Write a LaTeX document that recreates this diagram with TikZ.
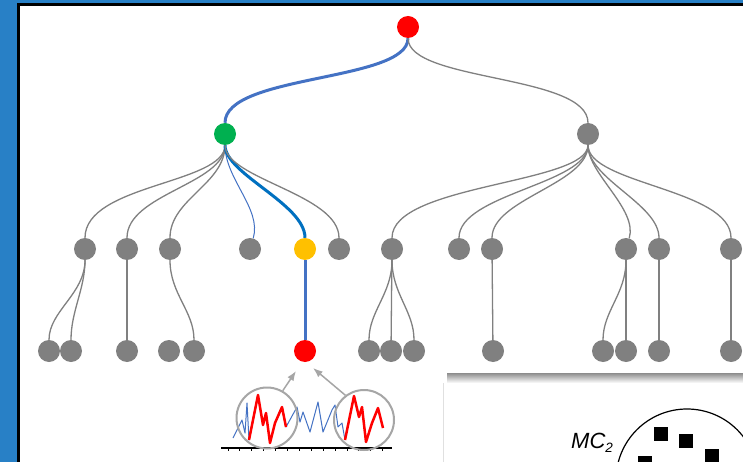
\documentclass[tikz,border=0pt]{standalone}
\usepackage{fontspec}
\newfontfamily\arialfont{Liberation Sans}
\usetikzlibrary{arrows.meta}
\definecolor{framebl}{RGB}{40,128,198}
\definecolor{treegray}{RGB}{128,128,128}
\definecolor{pathbl}{RGB}{68,114,196}
\definecolor{deepbl}{RGB}{0,112,192}
\definecolor{leafred}{RGB}{255,0,0}
\definecolor{hubgreen}{RGB}{0,176,80}
\definecolor{amber}{RGB}{255,192,0}
\definecolor{lensgray}{RGB}{166,166,166}

\begin{document}
\begin{tikzpicture}[x=1pt,y=-1pt,>=Latex,
  dot/.style={circle,minimum size=22pt,inner sep=0pt,fill=treegray},
  gedge/.style={draw=treegray,line width=1.3pt},
  bedge/.style={draw=pathbl,line width=3pt},
  lens/.style={circle,draw=lensgray,line width=2pt,minimum size=61pt,inner sep=0pt},
  arrowg/.style={draw=lensgray,line width=1.5pt,->},
  sq/.style={fill=black,minimum size=14pt,inner sep=0pt}]
\useasboundingbox (0,0) rectangle (743,462);
\clip (0,0) rectangle (743,462);
\fill[framebl] (0,0) rectangle (743,462);
\fill[black] (17,3) rectangle (743,462);
\fill[white] (19.5,6) rectangle (743,462);

\node[dot,fill=leafred] (root) at (408,27) {};
\node[dot,fill=hubgreen] (hub) at (225,134) {};
\node[dot] (r1) at (588,134) {};

\node[dot] (l2a) at (85,249) {};
\node[dot] (l2b) at (127,249) {};
\node[dot] (l2c) at (170,249) {};
\node[dot] (l2d) at (250,249) {};
\node[dot,fill=amber] (yel) at (305,249) {};
\node[dot] (l2f) at (339,249) {};
\node[dot] (l2g) at (392,249) {};
\node[dot] (l2h) at (459,249) {};
\node[dot] (l2i) at (492,249) {};
\node[dot] (l2j) at (626,249) {};
\node[dot] (l2k) at (659,249) {};
\node[dot] (l2l) at (731,249) {};

\node[dot] (l3a) at (49,351) {};
\node[dot] (l3b) at (71,351) {};
\node[dot] (l3c) at (127,351) {};
\node[dot] (l3d) at (169,351) {};
\node[dot] (l3e) at (194,351) {};
\node[dot,fill=leafred] (leaf) at (305,351) {};
\node[dot] (l3g) at (369,351) {};
\node[dot] (l3h) at (391,351) {};
\node[dot] (l3i) at (414,351) {};
\node[dot] (l3j) at (493,351) {};
\node[dot] (l3k) at (603,351) {};
\node[dot] (l3l) at (626,351) {};
\node[dot] (l3m) at (659,351) {};
\node[dot] (l3n) at (731,351) {};

\draw[bedge] (root) .. controls +(0,55) and +(0,-60) .. (hub);
\draw[gedge] (root) .. controls +(0,55) and +(0,-60) .. (r1);

\draw[gedge] (hub) .. controls +(0,50) and +(0,-65) .. (l2a);
\draw[gedge] (hub) .. controls +(0,50) and +(0,-55) .. (l2b);
\draw[gedge] (hub) .. controls +(0,50) and +(0,-50) .. (l2c);
\draw[draw=pathbl,line width=1pt] (hub) .. controls +(0,45) and +(12,-40) .. (l2d);
\draw[bedge,draw=deepbl] (hub) .. controls +(0,40) and +(0,-45) .. (yel);
\draw[gedge] (hub) .. controls +(0,45) and +(0,-55) .. (l2f);

\draw[gedge] (r1) .. controls +(0,50) and +(0,-65) .. (l2g);
\draw[gedge] (r1) .. controls +(0,50) and +(0,-55) .. (l2h);
\draw[gedge] (r1) .. controls +(0,50) and +(0,-50) .. (l2i);
\draw[gedge] (r1) .. controls +(0,40) and +(12,-40) .. (l2j);
\draw[gedge] (r1) .. controls +(0,45) and +(0,-45) .. (l2k);
\draw[gedge] (r1) .. controls +(0,50) and +(0,-60) .. (l2l);

\draw[gedge] (l2a) .. controls +(0,45) and +(0,-40) .. (l3a);
\draw[gedge] (l2a) .. controls +(0,40) and +(0,-40) .. (l3b);
\draw[gedge] (l2b) -- (l3c);
\draw[gedge] (l2c) .. controls +(0,45) and +(0,-40) .. (l3e);
\draw[bedge] (yel) -- (leaf);
\draw[gedge] (l2g) .. controls +(0,45) and +(0,-40) .. (l3g);
\draw[gedge] (l2g) -- (l3h);
\draw[gedge] (l2g) .. controls +(0,45) and +(0,-40) .. (l3i);
\draw[gedge] (l2i) -- (l3j);
\draw[gedge] (l2j) .. controls +(0,45) and +(0,-40) .. (l3k);
\draw[gedge] (l2j) -- (l3l);
\draw[gedge] (l2k) -- (l3m);
\draw[gedge] (l2l) -- (l3n);

\draw[pathbl,line width=1pt,line join=round] (233,438) -- (242,420) -- (245,433) -- (247,403) -- (249,440)
  -- (258,395) -- (263,425) -- (266,413) -- (270,443) -- (275,423) -- (282,407) -- (286,427)
  -- (297,407) -- (300,422) -- (303,412) -- (310,432) -- (318,402) -- (323,432) -- (332,410)
  -- (335,405) -- (338,427) -- (342,423) -- (345,440);
\draw[leafred,line width=2.5pt,line join=round] (249,440) -- (258,395) -- (263,425) -- (266,413)
  -- (270,443) -- (275,423) -- (282,407) -- (286,427);
\draw[leafred,line width=2.5pt,line join=round] (345,440) -- (354,396) -- (359,417) -- (362,407)
  -- (366,442) -- (372,423) -- (378,408) -- (383,428);
\coordinate (axL) at (221,448);
\coordinate (axR) at (392,448);
\draw[line width=1.3pt] (axL) -- (axR);
\foreach \t in {0,...,13}
  \draw[line width=1pt] (228+\t*11.9,448) -- ++(0,3);

\node[lens] (lensL) at (267,418) {};
\node[lens,minimum size=60pt] (lensR) at (364,420) {};
\coordinate (tipL) at (296,371);
\coordinate (tipR) at (313,368);
\draw[arrowg] (lensL.60) -- (tipL);
\draw[arrowg] (lensR.127) -- (tipR);

\shade[top color=black!45,bottom color=white] (447,373) rectangle (743,383);
\fill[white] (443,383) rectangle (743,462);
\draw[black!12] (443,383) -- (443,462);
\draw[line width=1.2pt] (687,480) circle (71);
\node[sq] (s1) at (661,434) {};
\node[sq] (s2) at (686,441) {};
\node[sq] (s3) at (712,456) {};
\node[sq] (s4) at (645,463) {};
\node[anchor=base west,inner sep=0pt,font=\arialfont\itshape\fontsize{22}{24}\selectfont] (mclabel) at (571,448)
  {MC\raisebox{-4pt}{\fontsize{13.5}{14}\selectfont 2}};
\end{tikzpicture}
\end{document}
